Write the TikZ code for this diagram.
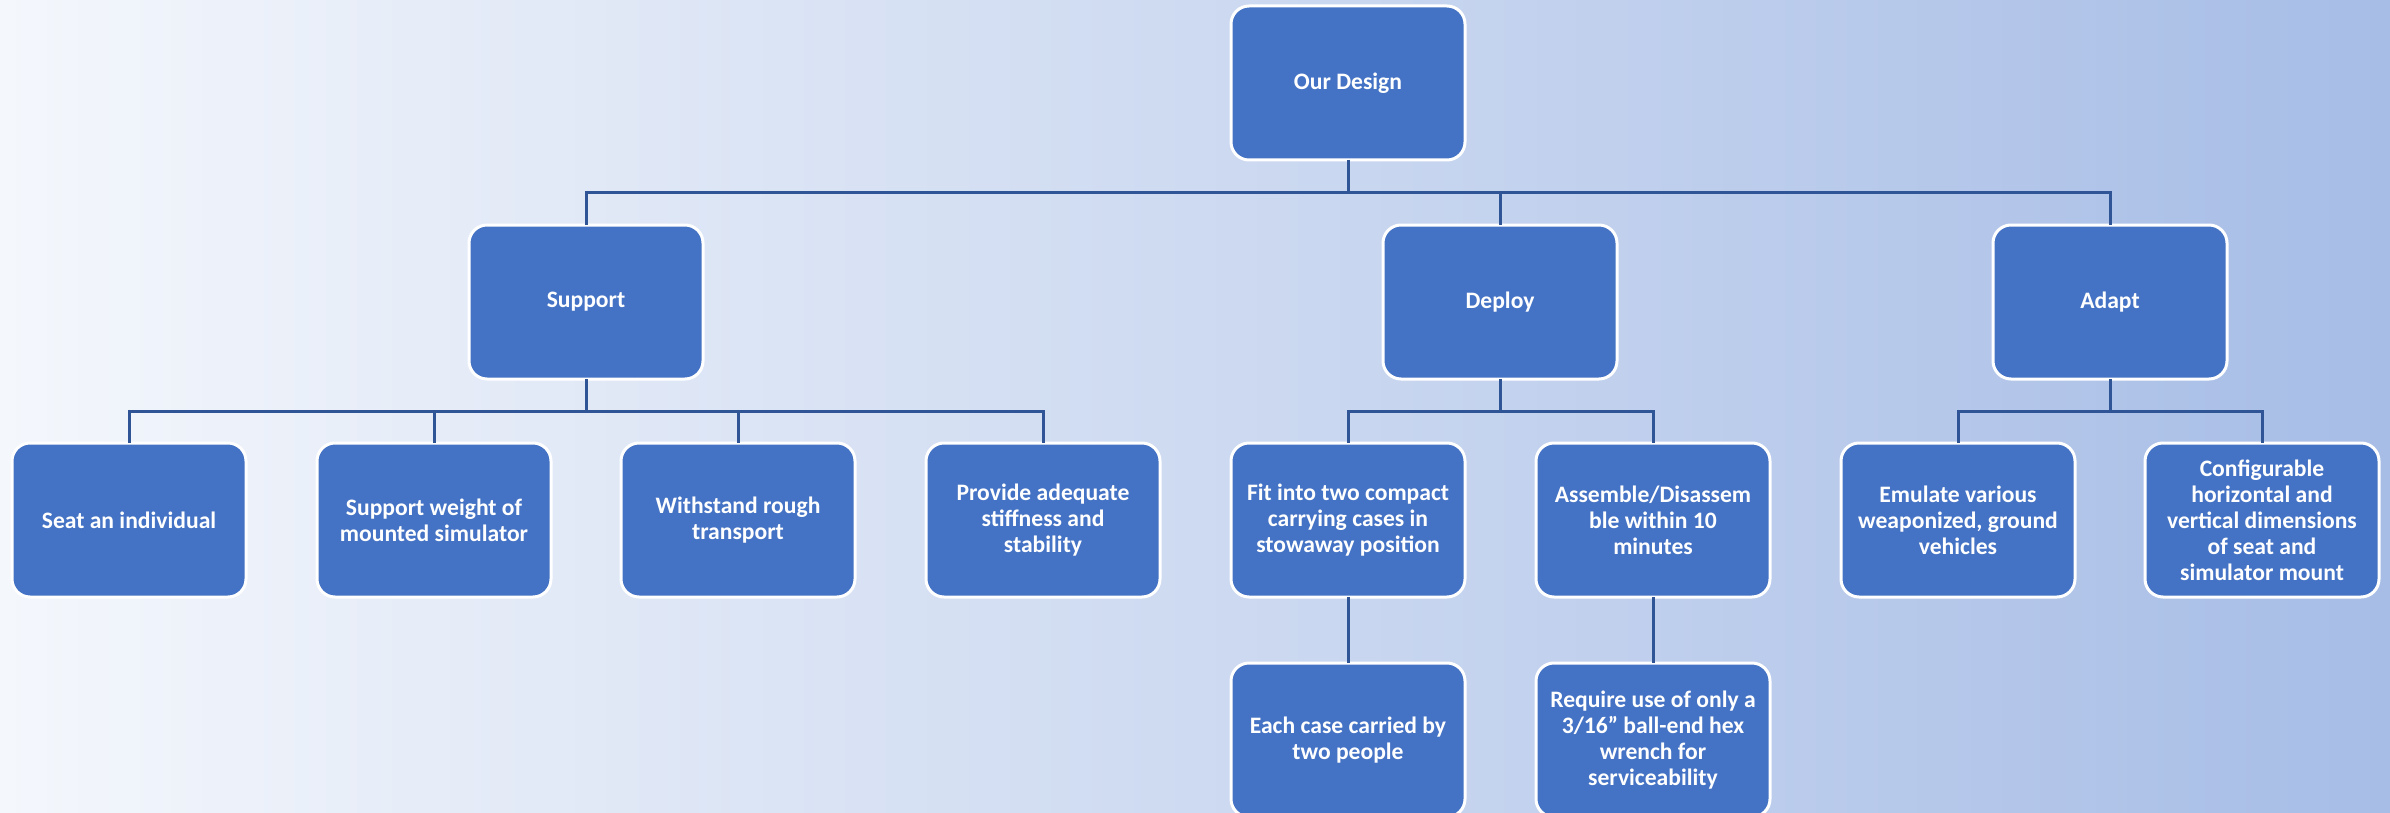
\documentclass[tikz,border=0pt]{standalone}
\usepackage{fontspec}
\setmainfont{Carlito}
\usetikzlibrary{calc}
\definecolor[named]{BoxBlue}{HTML}{4472C4}
\definecolor[named]{LinkBlue}{HTML}{2F5597}
\definecolor[named]{BgLeft}{HTML}{F4F7FC}
\definecolor[named]{BgRight}{HTML}{A7BDE6}
\tikzset{
  goal/.style={draw=white,line width=1.5pt,fill=BoxBlue,rounded corners=9pt,
    minimum width=117pt,minimum height=77pt,inner sep=2pt,outer sep=0pt,
    text=white,align=center,font=\bfseries\fontsize{11.8}{13}\selectfont},
  link/.style={draw=LinkBlue,line width=1.5pt},
  branch/.style={to path={(\tikztostart)
      -- ($(\tikztostart)!0.5!(\tikztostart |- \tikztotarget)$) -| (\tikztotarget)}}
}

\begin{document}
\begin{tikzpicture}[x=0.5pt,y=-0.5pt]
        \useasboundingbox (0,0) rectangle (2390,813);
        \clip (0,0) rectangle (2390,813);
        \shade[left color=BgLeft,right color=BgRight] (0,0) rectangle (2390,813);
        % Top and first level
        \node[goal] (design) at (1348,83) {Our Design};
        \node[goal] (support) at (586,302) {Support};
        \node[goal] (deploy) at (1500,302) {Deploy};
        \node[goal] (adapt) at (2110,302) {Adapt};
        % Second level
        \node[goal] (seat) at (129,520) {Seat an individual};
        \node[goal] (weight) at (434,520) {Support weight of\\mounted simulator};
        \node[goal] (rough) at (738,520) {Withstand rough\\transport};
        \node[goal] (stiff) at (1043,520) {Provide adequate\\stiffness and\\stability};
        \node[goal] (fit) at (1348,520) {Fit into two compact\\carrying cases in\\stowaway position};
        \node[goal] (assemble) at (1653,520) {Assemble/Disassem\\ble within 10\\minutes};
        \node[goal] (emulate) at (1958,520) {Emulate various\\weaponized, ground\\vehicles};
        \node[goal] (config) at (2262,520) {Configurable\\horizontal and\\vertical dimensions\\of seat and\\simulator mount};
        % Third level
        \node[goal] (cases) at (1348,740) {Each case carried by\\two people};
        \node[goal] (wrench) at (1653,740) {Require use of only a\\3/16” ball-end hex\\wrench for\\serviceability};
        % Connectors
        \foreach \p/\c in {design/support,design/deploy,design/adapt,
            support/seat,support/weight,support/rough,support/stiff,
            deploy/fit,deploy/assemble,adapt/emulate,adapt/config,
            fit/cases,assemble/wrench}
          \draw[link] (\p.south) to[branch] (\c.north);
      \end{tikzpicture}
\end{document}
